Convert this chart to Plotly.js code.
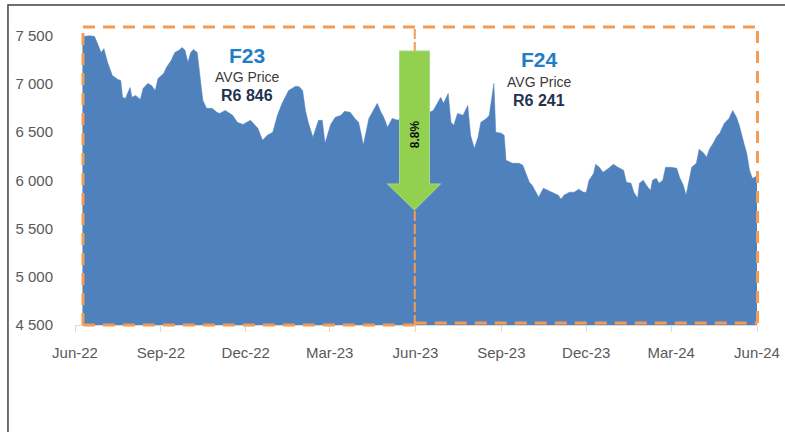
<!DOCTYPE html>
<html>
<head>
<meta charset="utf-8">
<script src="https://cdn.plot.ly/plotly-3.0.1.min.js"></script>
<style>
  html, body { margin: 0; padding: 0; background: #ffffff; }
  #chart { width: 785px; height: 432px; }
</style>
</head>
<body>
<div id="chart"></div>
<script>
// ---- data ----
var dates = ['2022-06-09','2022-06-17','2022-06-22','2022-06-26','2022-06-29','2022-07-02','2022-07-06','2022-07-11','2022-07-17','2022-07-20',
'2022-07-22','2022-07-25','2022-07-30','2022-08-01','2022-08-05','2022-08-10','2022-08-13','2022-08-18','2022-08-22','2022-08-26',
'2022-08-29','2022-09-04','2022-09-07','2022-09-12','2022-09-16','2022-09-20','2022-09-24','2022-09-27','2022-09-30','2022-10-03',
'2022-10-06','2022-10-10','2022-10-13','2022-10-16','2022-10-20','2022-10-26','2022-10-31','2022-11-03','2022-11-09','2022-11-14',
'2022-11-17','2022-11-22','2022-11-28','2022-12-06','2022-12-11','2022-12-14','2022-12-19','2022-12-24','2022-12-30','2023-01-04',
'2023-01-09','2023-01-16','2023-01-23','2023-01-27','2023-01-31','2023-02-03','2023-02-06','2023-02-11','2023-02-17','2023-02-21',
'2023-02-24','2023-03-02','2023-03-07','2023-03-13','2023-03-17','2023-03-23','2023-03-28','2023-04-01','2023-04-04','2023-04-06',
'2023-04-12','2023-04-17','2023-04-21','2023-04-25','2023-04-28','2023-05-02','2023-05-07','2023-05-13','2023-05-19','2023-05-25',
'2023-05-31','2023-06-05','2023-06-10','2023-06-16','2023-06-20','2023-06-23','2023-06-28','2023-07-01','2023-07-06','2023-07-09',
'2023-07-12','2023-07-16','2023-07-22','2023-07-27','2023-07-30','2023-08-03','2023-08-07','2023-08-10','2023-08-16','2023-08-19',
'2023-08-23','2023-08-24','2023-08-26','2023-09-01','2023-09-04','2023-09-06','2023-09-13','2023-09-20','2023-09-24','2023-09-28',
'2023-10-01','2023-10-04','2023-10-07','2023-10-11','2023-10-16','2023-10-21','2023-10-26','2023-11-01','2023-11-04','2023-11-07',
'2023-11-13','2023-11-18','2023-11-23','2023-11-28','2023-12-01','2023-12-04','2023-12-09','2023-12-11','2023-12-15','2023-12-19',
'2023-12-25','2023-12-30','2024-01-04','2024-01-10','2024-01-13','2024-01-18','2024-01-21','2024-01-25','2024-01-27','2024-01-31',
'2024-02-05','2024-02-08','2024-02-10','2024-02-14','2024-02-17','2024-02-21','2024-02-24','2024-03-01','2024-03-07','2024-03-10',
'2024-03-14','2024-03-17','2024-03-23','2024-03-28','2024-03-31','2024-04-05','2024-04-08','2024-04-11','2024-04-15','2024-04-19',
'2024-04-22','2024-04-27','2024-05-02','2024-05-06','2024-05-10','2024-05-13','2024-05-18','2024-05-21','2024-05-24','2024-05-27',
'2024-05-30','2024-06-01'];

var prices = [7490,7500,7490,7400,7325,7365,7222,7088,7046,7036,
6860,6849,6963,6860,6880,6839,6953,7005,6984,6932,
7056,7108,7170,7243,7326,7346,7377,7346,7222,7326,
7357,7326,7088,6829,6746,6746,6705,6694,6725,6694,
6674,6601,6580,6622,6570,6539,6415,6467,6498,6674,
6798,6932,6974,6974,6932,6725,6601,6446,6622,6622,
6384,6580,6653,6674,6715,6705,6642,6601,6467,6363,
6642,6725,6798,6705,6653,6549,6642,6622,6674,6570,
6653,6725,6653,6705,6725,6777,6860,6798,6901,6601,
6570,6694,6674,6777,6467,6332,6446,6601,6642,6674,
6912,7005,6498,6488,6467,6208,6177,6177,6156,6053,
5980,5949,5897,5825,5918,5897,5877,5846,5804,5846,
5877,5877,5908,5877,5877,6001,6073,6166,6135,6084,
6125,6166,6135,6104,5980,5970,5877,5815,5970,6001,
5928,5897,6001,6021,5970,6001,6135,6135,6125,6032,
5949,5846,6135,6177,6322,6280,6239,6322,6384,6456,
6487,6591,6642,6725,6653,6570,6384,6280,6104,6021,
6032,6053];

var periodLabels = ['F23', 'F24'];
var avgLabel = 'AVG Price';
var avgPrices = ['R6 846', 'R6 241'];
var changeLabel = '8.8%';

var FONT = 'Liberation Sans, Arial, sans-serif';
var ORANGE = '#F59B52';

var trace = {
  type: 'scatter',
  mode: 'lines',
  x: dates,
  y: prices,
  fill: 'tozeroy',
  fillcolor: '#4F81BD',
  line: { color: '#4F81BD', width: 0.5 },
  hoverinfo: 'skip'
};

function seg(x0, y0, x1, y1, w, dash) {
  return { type: 'line', xref: 'paper', yref: 'paper', x0: x0, y0: y0, x1: x1, y1: y1,
           line: { color: ORANGE, width: w, dash: dash }, layer: 'above' };
}

var shapes = [
  // outer frame (top and left)
  { type: 'path', xref: 'paper', yref: 'paper', path: 'M -0.0983,-0.40 L -0.0983,1.0702 L 1.06,1.0702',
    line: { color: '#404040', width: 1.5 } },
  // dashed period boxes
  seg(0.0117, 0.9967, 1.0007, 0.9967, 3, '12px,8px'),
  seg(0.0117, 0.0, 0.0117, 0.9967, 3, '12px,8px'),
  seg(0.0117, 0.0, 0.4982, 0.0, 3, '12px,8px'),
  seg(0.4982, 0.0067, 1.0007, 0.0067, 3, '12px,8px'),
  seg(1.0007, 0.0067, 1.0007, 0.9967, 3, '12px,8px'),
  seg(0.4982, 0.0, 0.4982, 0.9967, 2, '10px,3px'),
  // green down arrow
  { type: 'path', xref: 'paper', yref: 'paper', layer: 'above',
    path: 'M 0.4758,0.9164 L 0.5198,0.9164 L 0.5198,0.4716 L 0.5360,0.4716 L 0.4978,0.3846 L 0.4581,0.4716 L 0.4758,0.4716 Z',
    fillcolor: '#92D050', line: { color: '#A9D88A', width: 1 } }
];

function note(x, y, text, size, color, extra) {
  var a = { xref: 'paper', yref: 'paper', x: x, y: y, text: text, showarrow: false,
            xanchor: 'center', yanchor: 'middle', font: { family: FONT, size: size, color: color } };
  if (extra) { for (var k in extra) { a[k] = extra[k]; } }
  return a;
}

var annotations = [
  note(0.2524, 0.8997, '<b>' + periodLabels[0] + '</b>', 21, '#1F7EC6'),
  note(0.2524, 0.8294, avgLabel, 14, '#3B3B3B'),
  note(0.2524, 0.7692, '<b>' + avgPrices[0] + '</b>', 16, '#1F3450'),
  note(0.6809, 0.8863, '<b>' + periodLabels[1] + '</b>', 21, '#1F7EC6'),
  note(0.6809, 0.8127, avgLabel, 14, '#3B3B3B'),
  note(0.6809, 0.7492, '<b>' + avgPrices[1] + '</b>', 16, '#1F3450'),
  note(0.4989, 0.6388, '<b>' + changeLabel + '</b>', 12, '#111111', { textangle: -90 })
];

var layout = {
  width: 785,
  height: 432,
  margin: { l: 75, r: 28, t: 26, b: 107 },
  paper_bgcolor: '#ffffff',
  plot_bgcolor: '#ffffff',
  showlegend: false,
  separators: '. ',
  font: { family: FONT, size: 15, color: '#595959' },
  xaxis: {
    type: 'date',
    range: ['2022-06-01', '2024-06-01'],
    tick0: '2022-06-01',
    dtick: 'M3',
    tickformat: '%b-%y',
    showgrid: false,
    zeroline: false,
    showline: true,
    linecolor: '#D9D9D9',
    linewidth: 1,
    ticks: 'outside',
    ticklen: 6,
    tickcolor: '#D9D9D9',
    ticklabelstandoff: 8,
    tickfont: { family: FONT, size: 15, color: '#595959' }
  },
  yaxis: {
    range: [4500, 7600],
    tick0: 4500,
    dtick: 500,
    tickformat: ',d',
    showgrid: false,
    zeroline: false,
    showline: false,
    ticks: '',
    ticklabelstandoff: 21,
    tickfont: { family: FONT, size: 15, color: '#595959' }
  },
  shapes: shapes,
  annotations: annotations
};

Plotly.newPlot('chart', [trace], layout, { displayModeBar: false, staticPlot: true });
</script>
</body>
</html>
